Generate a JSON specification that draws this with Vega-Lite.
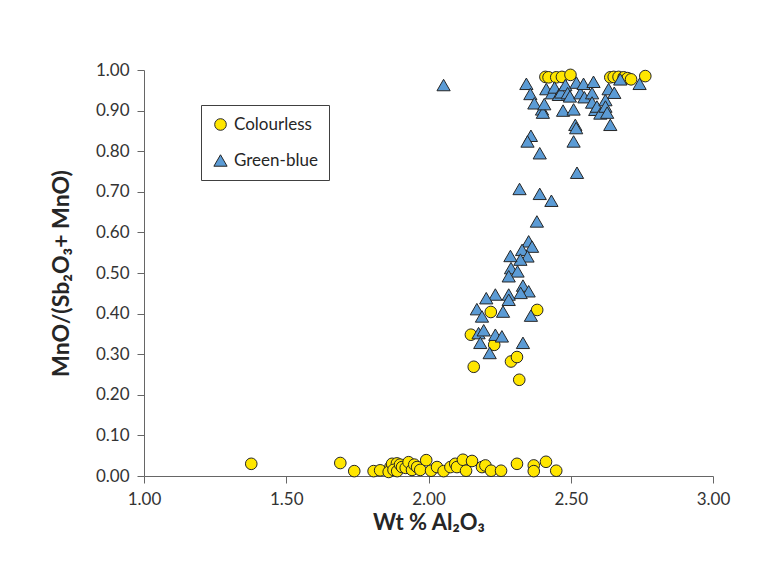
{
  "$schema": "https://vega.github.io/schema/vega-lite/v6.json",
  "autosize": {"type": "none"},
  "padding": {"left": 144, "top": 70, "right": 59, "bottom": 90},
  "width": 569,
  "height": 406,
  "background": "white",
  "config": {
    "font": "Lato",
    "view": {"stroke": null},
    "axis": {"grid": false, "domainColor": "#666666", "tickColor": "#666666", "labelColor": "#333333", "titleColor": "#262626", "labelFont": "Lato", "titleFont": "Lato"}
  },
  "data": {
    "values": [
      {"glass": "Colourless", "al2o3": 1.377, "ratio": 0.030},
      {"glass": "Colourless", "al2o3": 1.690, "ratio": 0.032},
      {"glass": "Colourless", "al2o3": 1.739, "ratio": 0.012},
      {"glass": "Colourless", "al2o3": 1.807, "ratio": 0.012},
      {"glass": "Colourless", "al2o3": 1.830, "ratio": 0.014},
      {"glass": "Colourless", "al2o3": 1.866, "ratio": 0.022},
      {"glass": "Colourless", "al2o3": 1.860, "ratio": 0.010},
      {"glass": "Colourless", "al2o3": 1.872, "ratio": 0.030},
      {"glass": "Colourless", "al2o3": 1.889, "ratio": 0.031},
      {"glass": "Colourless", "al2o3": 1.877, "ratio": 0.015},
      {"glass": "Colourless", "al2o3": 1.890, "ratio": 0.012},
      {"glass": "Colourless", "al2o3": 1.900, "ratio": 0.028},
      {"glass": "Colourless", "al2o3": 1.907, "ratio": 0.022},
      {"glass": "Colourless", "al2o3": 1.920, "ratio": 0.020},
      {"glass": "Colourless", "al2o3": 1.930, "ratio": 0.034},
      {"glass": "Colourless", "al2o3": 1.942, "ratio": 0.015},
      {"glass": "Colourless", "al2o3": 1.950, "ratio": 0.028},
      {"glass": "Colourless", "al2o3": 1.960, "ratio": 0.022},
      {"glass": "Colourless", "al2o3": 1.971, "ratio": 0.015},
      {"glass": "Colourless", "al2o3": 1.992, "ratio": 0.039},
      {"glass": "Colourless", "al2o3": 2.009, "ratio": 0.013},
      {"glass": "Colourless", "al2o3": 2.030, "ratio": 0.022},
      {"glass": "Colourless", "al2o3": 2.053, "ratio": 0.012},
      {"glass": "Colourless", "al2o3": 2.077, "ratio": 0.022},
      {"glass": "Colourless", "al2o3": 2.094, "ratio": 0.030},
      {"glass": "Colourless", "al2o3": 2.100, "ratio": 0.022},
      {"glass": "Colourless", "al2o3": 2.121, "ratio": 0.040},
      {"glass": "Colourless", "al2o3": 2.132, "ratio": 0.013},
      {"glass": "Colourless", "al2o3": 2.153, "ratio": 0.037},
      {"glass": "Colourless", "al2o3": 2.188, "ratio": 0.022},
      {"glass": "Colourless", "al2o3": 2.200, "ratio": 0.026},
      {"glass": "Colourless", "al2o3": 2.220, "ratio": 0.013},
      {"glass": "Colourless", "al2o3": 2.255, "ratio": 0.013},
      {"glass": "Colourless", "al2o3": 2.311, "ratio": 0.030},
      {"glass": "Colourless", "al2o3": 2.370, "ratio": 0.026},
      {"glass": "Colourless", "al2o3": 2.370, "ratio": 0.012},
      {"glass": "Colourless", "al2o3": 2.413, "ratio": 0.035},
      {"glass": "Colourless", "al2o3": 2.449, "ratio": 0.013},
      {"glass": "Colourless", "al2o3": 2.149, "ratio": 0.348},
      {"glass": "Colourless", "al2o3": 2.159, "ratio": 0.269},
      {"glass": "Colourless", "al2o3": 2.219, "ratio": 0.404},
      {"glass": "Colourless", "al2o3": 2.231, "ratio": 0.323},
      {"glass": "Colourless", "al2o3": 2.290, "ratio": 0.282},
      {"glass": "Colourless", "al2o3": 2.311, "ratio": 0.293},
      {"glass": "Colourless", "al2o3": 2.319, "ratio": 0.237},
      {"glass": "Colourless", "al2o3": 2.382, "ratio": 0.409},
      {"glass": "Colourless", "al2o3": 2.411, "ratio": 0.983},
      {"glass": "Colourless", "al2o3": 2.422, "ratio": 0.982},
      {"glass": "Colourless", "al2o3": 2.449, "ratio": 0.982},
      {"glass": "Colourless", "al2o3": 2.469, "ratio": 0.983},
      {"glass": "Colourless", "al2o3": 2.499, "ratio": 0.988},
      {"glass": "Colourless", "al2o3": 2.639, "ratio": 0.982},
      {"glass": "Colourless", "al2o3": 2.651, "ratio": 0.983},
      {"glass": "Colourless", "al2o3": 2.668, "ratio": 0.983},
      {"glass": "Colourless", "al2o3": 2.686, "ratio": 0.982},
      {"glass": "Colourless", "al2o3": 2.700, "ratio": 0.980},
      {"glass": "Colourless", "al2o3": 2.712, "ratio": 0.977},
      {"glass": "Colourless", "al2o3": 2.762, "ratio": 0.985},
      {"glass": "Green-blue", "al2o3": 2.053, "ratio": 0.963},
      {"glass": "Green-blue", "al2o3": 2.344, "ratio": 0.966},
      {"glass": "Green-blue", "al2o3": 2.358, "ratio": 0.941},
      {"glass": "Green-blue", "al2o3": 2.372, "ratio": 0.918},
      {"glass": "Green-blue", "al2o3": 2.399, "ratio": 0.903},
      {"glass": "Green-blue", "al2o3": 2.402, "ratio": 0.895},
      {"glass": "Green-blue", "al2o3": 2.407, "ratio": 0.916},
      {"glass": "Green-blue", "al2o3": 2.414, "ratio": 0.953},
      {"glass": "Green-blue", "al2o3": 2.434, "ratio": 0.943},
      {"glass": "Green-blue", "al2o3": 2.443, "ratio": 0.957},
      {"glass": "Green-blue", "al2o3": 2.458, "ratio": 0.939},
      {"glass": "Green-blue", "al2o3": 2.466, "ratio": 0.945},
      {"glass": "Green-blue", "al2o3": 2.473, "ratio": 0.900},
      {"glass": "Green-blue", "al2o3": 2.481, "ratio": 0.963},
      {"glass": "Green-blue", "al2o3": 2.489, "ratio": 0.943},
      {"glass": "Green-blue", "al2o3": 2.497, "ratio": 0.935},
      {"glass": "Green-blue", "al2o3": 2.510, "ratio": 0.903},
      {"glass": "Green-blue", "al2o3": 2.520, "ratio": 0.969},
      {"glass": "Green-blue", "al2o3": 2.534, "ratio": 0.943},
      {"glass": "Green-blue", "al2o3": 2.545, "ratio": 0.966},
      {"glass": "Green-blue", "al2o3": 2.548, "ratio": 0.933},
      {"glass": "Green-blue", "al2o3": 2.575, "ratio": 0.943},
      {"glass": "Green-blue", "al2o3": 2.580, "ratio": 0.971},
      {"glass": "Green-blue", "al2o3": 2.575, "ratio": 0.920},
      {"glass": "Green-blue", "al2o3": 2.586, "ratio": 0.902},
      {"glass": "Green-blue", "al2o3": 2.592, "ratio": 0.910},
      {"glass": "Green-blue", "al2o3": 2.604, "ratio": 0.893},
      {"glass": "Green-blue", "al2o3": 2.622, "ratio": 0.926},
      {"glass": "Green-blue", "al2o3": 2.622, "ratio": 0.910},
      {"glass": "Green-blue", "al2o3": 2.628, "ratio": 0.895},
      {"glass": "Green-blue", "al2o3": 2.633, "ratio": 0.953},
      {"glass": "Green-blue", "al2o3": 2.653, "ratio": 0.944},
      {"glass": "Green-blue", "al2o3": 2.674, "ratio": 0.977},
      {"glass": "Green-blue", "al2o3": 2.742, "ratio": 0.966},
      {"glass": "Green-blue", "al2o3": 2.639, "ratio": 0.865},
      {"glass": "Green-blue", "al2o3": 2.516, "ratio": 0.865},
      {"glass": "Green-blue", "al2o3": 2.519, "ratio": 0.857},
      {"glass": "Green-blue", "al2o3": 2.510, "ratio": 0.824},
      {"glass": "Green-blue", "al2o3": 2.522, "ratio": 0.747},
      {"glass": "Green-blue", "al2o3": 2.360, "ratio": 0.838},
      {"glass": "Green-blue", "al2o3": 2.348, "ratio": 0.824},
      {"glass": "Green-blue", "al2o3": 2.391, "ratio": 0.795},
      {"glass": "Green-blue", "al2o3": 2.320, "ratio": 0.707},
      {"glass": "Green-blue", "al2o3": 2.391, "ratio": 0.695},
      {"glass": "Green-blue", "al2o3": 2.432, "ratio": 0.678},
      {"glass": "Green-blue", "al2o3": 2.381, "ratio": 0.627},
      {"glass": "Green-blue", "al2o3": 2.352, "ratio": 0.578},
      {"glass": "Green-blue", "al2o3": 2.364, "ratio": 0.565},
      {"glass": "Green-blue", "al2o3": 2.329, "ratio": 0.557},
      {"glass": "Green-blue", "al2o3": 2.348, "ratio": 0.541},
      {"glass": "Green-blue", "al2o3": 2.323, "ratio": 0.533},
      {"glass": "Green-blue", "al2o3": 2.288, "ratio": 0.542},
      {"glass": "Green-blue", "al2o3": 2.290, "ratio": 0.512},
      {"glass": "Green-blue", "al2o3": 2.313, "ratio": 0.504},
      {"glass": "Green-blue", "al2o3": 2.282, "ratio": 0.492},
      {"glass": "Green-blue", "al2o3": 2.332, "ratio": 0.469},
      {"glass": "Green-blue", "al2o3": 2.352, "ratio": 0.455},
      {"glass": "Green-blue", "al2o3": 2.324, "ratio": 0.451},
      {"glass": "Green-blue", "al2o3": 2.282, "ratio": 0.447},
      {"glass": "Green-blue", "al2o3": 2.282, "ratio": 0.434},
      {"glass": "Green-blue", "al2o3": 2.235, "ratio": 0.447},
      {"glass": "Green-blue", "al2o3": 2.203, "ratio": 0.438},
      {"glass": "Green-blue", "al2o3": 2.170, "ratio": 0.411},
      {"glass": "Green-blue", "al2o3": 2.188, "ratio": 0.393},
      {"glass": "Green-blue", "al2o3": 2.262, "ratio": 0.405},
      {"glass": "Green-blue", "al2o3": 2.360, "ratio": 0.395},
      {"glass": "Green-blue", "al2o3": 2.176, "ratio": 0.352},
      {"glass": "Green-blue", "al2o3": 2.194, "ratio": 0.359},
      {"glass": "Green-blue", "al2o3": 2.235, "ratio": 0.348},
      {"glass": "Green-blue", "al2o3": 2.258, "ratio": 0.344},
      {"glass": "Green-blue", "al2o3": 2.182, "ratio": 0.328},
      {"glass": "Green-blue", "al2o3": 2.215, "ratio": 0.303},
      {"glass": "Green-blue", "al2o3": 2.332, "ratio": 0.328}
    ]
  },
  "mark": {"type": "point", "filled": true, "opacity": 1, "stroke": "#262626", "strokeWidth": 1, "size": 150, "clip": false},
  "encoding": {
    "x": {
      "field": "al2o3", "type": "quantitative",
      "scale": {"domain": [1, 3], "nice": false, "zero": false},
      "axis": {"values": [1, 1.5, 2, 2.5, 3], "format": ".2f", "labelFontSize": 17, "tickSize": 7, "labelPadding": 8, "title": "Wt % Al₂O₃", "titleFontSize": 22, "titleFontWeight": "bold", "titlePadding": 5, "labelFlush": false}
    },
    "y": {
      "field": "ratio", "type": "quantitative",
      "scale": {"domain": [0, 1], "nice": false},
      "axis": {"values": [0, 0.1, 0.2, 0.3, 0.4, 0.5, 0.6, 0.7, 0.8, 0.9, 1.0], "format": ".2f", "labelFontSize": 17, "tickSize": 7, "labelPadding": 8, "title": "MnO/(Sb₂O₃+ MnO)", "titleFontSize": 23, "titleFontWeight": "bold", "titlePadding": 22, "labelFlush": false}
    },
    "color": {
      "field": "glass", "type": "nominal",
      "scale": {"domain": ["Colourless", "Green-blue"], "range": ["#FFE600", "#5B9BD5"]},
      "legend": {"title": null, "orient": "none", "legendX": 57, "legendY": 35, "direction": "vertical", "strokeColor": "#404040", "fillColor": "white", "padding": 11, "labelFontSize": 17, "labelColor": "#262626", "symbolSize": 100, "rowPadding": 18, "symbolStrokeColor": "#262626", "symbolStrokeWidth": 1, "labelOffset": 5}
    },
    "shape": {
      "field": "glass", "type": "nominal",
      "scale": {"domain": ["Colourless", "Green-blue"], "range": ["circle", "triangle-up"]},
      "legend": {"title": null}
    },
    "size": {
      "field": "glass", "type": "nominal",
      "scale": {"domain": ["Colourless", "Green-blue"], "range": [135, 175]},
      "legend": null
    }
  }
}
